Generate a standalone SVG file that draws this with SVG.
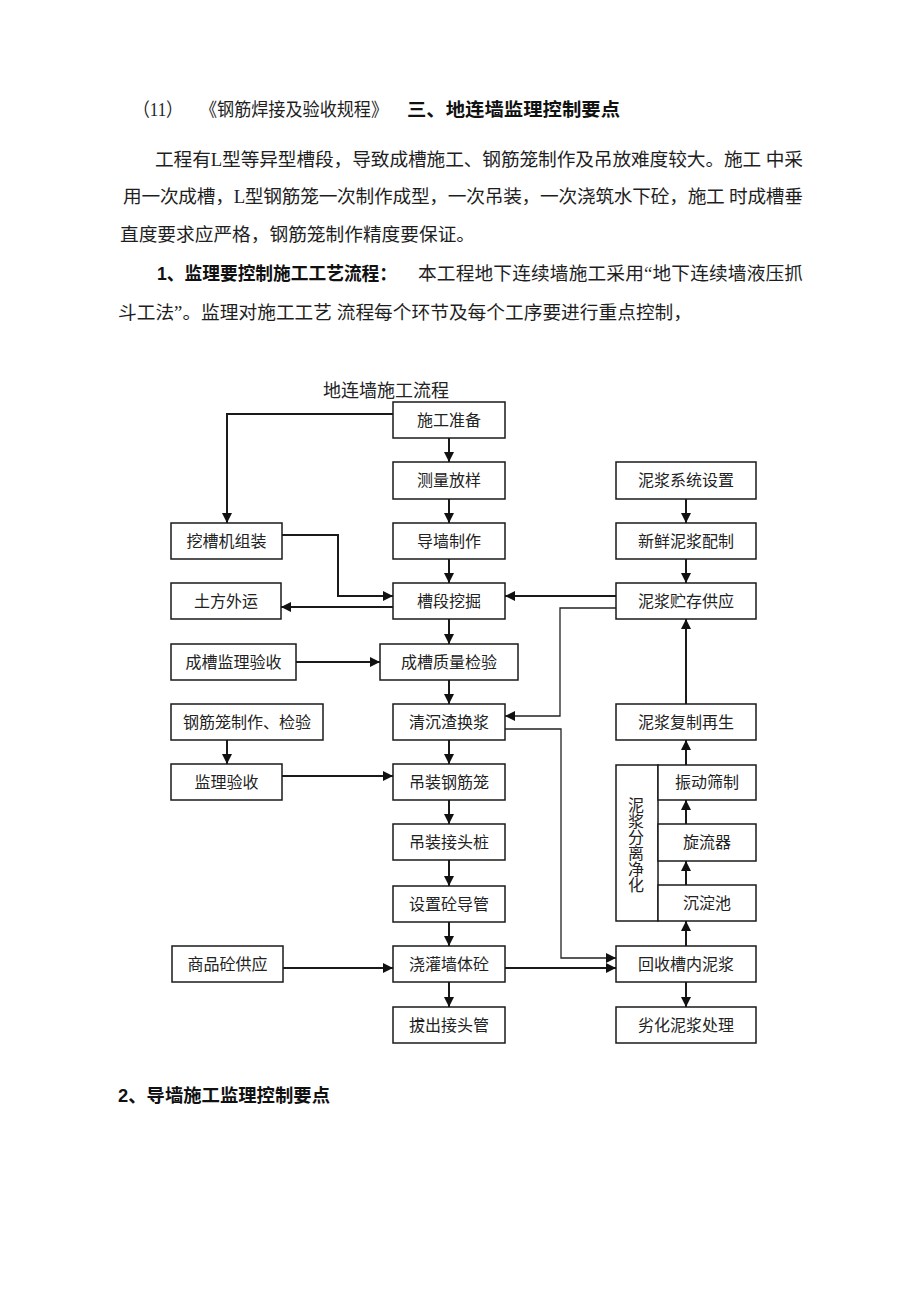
<svg xmlns="http://www.w3.org/2000/svg" width="920" height="1302" viewBox="0 0 920 1302">
<style>
.bg{fill:#fff}
.p{font-family:"Liberation Serif","Noto Sans CJK SC",serif;font-size:18.7px;fill:#1e1e1e}
.b{font-family:"Liberation Sans","Noto Sans CJK SC",sans-serif;font-size:18.7px;font-weight:bold;fill:#111}
.box{fill:#fff;stroke:#1a1a1a;stroke-width:1.5}
.t{font-family:"Liberation Serif","Noto Sans CJK SC",serif;font-size:16px;fill:#222;text-anchor:middle}
.title{font-family:"Liberation Serif","Noto Sans CJK SC",serif;font-size:18px;fill:#222;text-anchor:middle}
.c{fill:none;stroke:#1a1a1a;stroke-width:2;marker-end:url(#ah)}
.thin{fill:none;stroke:#222;stroke-width:1.3;marker-end:url(#ah)}
</style>
<defs>
<marker id="ah" markerUnits="userSpaceOnUse" markerWidth="10" markerHeight="10" viewBox="0 0 10 10" refX="10" refY="5" orient="auto">
<path d="M0,0 L10,5 L0,10 z" fill="#111"/>
</marker>
</defs>
<rect class="bg" x="0" y="0" width="920" height="1302"/>

<g id="text">
<text class="p" x="133" y="116" textLength="50" lengthAdjust="spacingAndGlyphs">（11）</text>
<text class="p" x="200" y="116" textLength="188" lengthAdjust="spacingAndGlyphs">《钢筋焊接及验收规程》</text>
<text class="b" x="407" y="116" textLength="213" lengthAdjust="spacingAndGlyphs">三、地连墙监理控制要点</text>
<text class="p" x="155" y="166" textLength="648" lengthAdjust="spacing">工程有L型等异型槽段，导致成槽施工、钢筋笼制作及吊放难度较大。施工 中采</text>
<text class="p" x="123" y="203" textLength="680" lengthAdjust="spacing">用一次成槽，L型钢筋笼一次制作成型，一次吊装，一次浇筑水下砼，施工 时成槽垂</text>
<text class="p" x="120" y="241">直度要求应严格，钢筋笼制作精度要保证。</text>
<text class="b" x="157" y="280" textLength="240" lengthAdjust="spacingAndGlyphs">1、监理要控制施工工艺流程：</text>
<text class="p" x="418" y="280" textLength="385" lengthAdjust="spacing">本工程地下连续墙施工采用“地下连续墙液压抓</text>
<text class="p" x="118" y="319" textLength="574" lengthAdjust="spacing">斗工法”。监理对施工工艺 流程每个环节及每个工序要进行重点控制，</text>
<text class="b" x="118" y="1102" textLength="212" lengthAdjust="spacingAndGlyphs">2、导墙施工监理控制要点</text>
<text class="title" x="386" y="397">地连墙施工流程</text>
</g>

<g id="connectors">
<line class="c" x1="449" y1="438" x2="449" y2="462"/>
<line class="c" x1="449" y1="499" x2="449" y2="523"/>
<line class="c" x1="449" y1="559" x2="449" y2="583"/>
<line class="c" x1="449" y1="619" x2="449" y2="644"/>
<line class="c" x1="449" y1="680" x2="449" y2="704"/>
<line class="c" x1="449" y1="740" x2="449" y2="764"/>
<line class="c" x1="449" y1="800" x2="449" y2="824"/>
<line class="c" x1="449" y1="860" x2="449" y2="886"/>
<line class="c" x1="449" y1="922" x2="449" y2="946"/>
<line class="c" x1="449" y1="982" x2="449" y2="1007"/>
<polyline class="c" points="393,414 227,414 227,523"/>
<polyline class="c" points="282,535 338,535 338,596 393,596"/>
<line class="c" x1="393" y1="607" x2="281" y2="607"/>
<line class="c" x1="616" y1="596" x2="505" y2="596"/>
<polyline class="thin" points="616,608 560,608 560,716 505,716"/>
<polyline class="thin" points="505,729 561,729 561,958 616,958"/>
<line class="c" x1="505" y1="968" x2="616" y2="968"/>
<line class="c" x1="283" y1="968" x2="393" y2="968"/>
<line class="c" x1="296" y1="662" x2="380" y2="662"/>
<line class="c" x1="227" y1="740" x2="227" y2="764"/>
<line class="c" x1="282" y1="776" x2="393" y2="776"/>
<line class="c" x1="686" y1="499" x2="686" y2="523"/>
<line class="c" x1="686" y1="559" x2="686" y2="583"/>
<line class="c" x1="686" y1="704" x2="686" y2="619"/>
<line class="c" x1="686" y1="765" x2="686" y2="740"/>
<line class="c" x1="686" y1="824" x2="686" y2="800"/>
<line class="c" x1="686" y1="885" x2="686" y2="861"/>
<line class="c" x1="686" y1="946" x2="686" y2="921"/>
<line class="c" x1="686" y1="982" x2="686" y2="1007"/>
</g>

<g id="n-shigong-zhunbei"><rect class="box" x="393" y="402" width="112" height="36"/><text class="t" x="449" y="426">施工准备</text></g>
<g id="n-celiang"><rect class="box" x="393" y="462" width="112" height="37"/><text class="t" x="449" y="486">测量放样</text></g>
<g id="n-daoqiang"><rect class="box" x="393" y="523" width="112" height="36"/><text class="t" x="449" y="547">导墙制作</text></g>
<g id="n-caoduan"><rect class="box" x="393" y="583" width="112" height="36"/><text class="t" x="449" y="607">槽段挖掘</text></g>
<g id="n-chengcao-zhiliang"><rect class="box" x="380" y="644" width="138" height="36"/><text class="t" x="449" y="668">成槽质量检验</text></g>
<g id="n-qingchenzha"><rect class="box" x="393" y="704" width="112" height="36"/><text class="t" x="449" y="728">清沉渣换浆</text></g>
<g id="n-diaozhuang-gangjin"><rect class="box" x="393" y="764" width="112" height="36"/><text class="t" x="449" y="788">吊装钢筋笼</text></g>
<g id="n-diaozhuang-jietou"><rect class="box" x="393" y="824" width="112" height="36"/><text class="t" x="449" y="848">吊装接头桩</text></g>
<g id="n-shezhi"><rect class="box" x="393" y="886" width="112" height="36"/><text class="t" x="449" y="910">设置砼导管</text></g>
<g id="n-jiaoguan"><rect class="box" x="393" y="946" width="112" height="36"/><text class="t" x="449" y="970">浇灌墙体砼</text></g>
<g id="n-bachu"><rect class="box" x="393" y="1007" width="112" height="36"/><text class="t" x="449" y="1031">拔出接头管</text></g>

<g id="n-wacaoji"><rect class="box" x="171" y="523" width="111" height="36"/><text class="t" x="226.5" y="547">挖槽机组装</text></g>
<g id="n-tufang"><rect class="box" x="171" y="583" width="110" height="36"/><text class="t" x="226" y="607">土方外运</text></g>
<g id="n-chengcao-jianli"><rect class="box" x="171" y="644" width="125" height="36"/><text class="t" x="233.5" y="668">成槽监理验收</text></g>
<g id="n-gangjinlong"><rect class="box" x="171" y="704" width="152" height="36"/><text class="t" x="247" y="728">钢筋笼制作、检验</text></g>
<g id="n-jianli-yanshou"><rect class="box" x="171" y="764" width="111" height="36"/><text class="t" x="226.5" y="788">监理验收</text></g>
<g id="n-shangpin"><rect class="box" x="172" y="946" width="111" height="36"/><text class="t" x="227.5" y="970">商品砼供应</text></g>

<g id="n-nijiang-xitong"><rect class="box" x="616" y="462" width="140" height="37"/><text class="t" x="686" y="486">泥浆系统设置</text></g>
<g id="n-xinxian"><rect class="box" x="616" y="523" width="140" height="36"/><text class="t" x="686" y="547">新鲜泥浆配制</text></g>
<g id="n-zhucun"><rect class="box" x="616" y="583" width="140" height="36"/><text class="t" x="686" y="607">泥浆贮存供应</text></g>
<g id="n-fuzhi"><rect class="box" x="616" y="704" width="140" height="36"/><text class="t" x="686" y="728">泥浆复制再生</text></g>
<g id="n-fenli"><rect class="box" x="616" y="765" width="42" height="156"/>
<text class="t" x="636" y="811">泥</text><text class="t" x="636" y="827">浆</text><text class="t" x="636" y="843">分</text><text class="t" x="636" y="859">离</text><text class="t" x="636" y="875">净</text><text class="t" x="636" y="891">化</text></g>
<g id="n-zhendong"><rect class="box" x="658" y="765" width="98" height="35"/><text class="t" x="707" y="788">振动筛制</text></g>
<g id="n-xuanliu"><rect class="box" x="658" y="824" width="98" height="37"/><text class="t" x="707" y="848">旋流器</text></g>
<g id="n-chendian"><rect class="box" x="658" y="885" width="98" height="36"/><text class="t" x="707" y="909">沉淀池</text></g>
<g id="n-huishou"><rect class="box" x="616" y="946" width="140" height="36"/><text class="t" x="686" y="970">回收槽内泥浆</text></g>
<g id="n-liehua"><rect class="box" x="616" y="1007" width="140" height="36"/><text class="t" x="686" y="1031">劣化泥浆处理</text></g>
</svg>
